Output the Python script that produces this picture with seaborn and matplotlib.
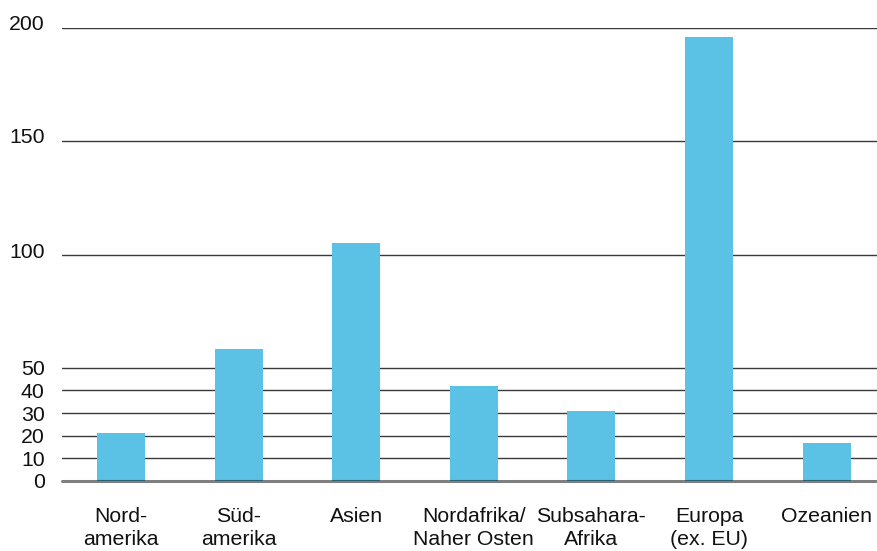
import matplotlib
matplotlib.use("Agg")
import matplotlib.pyplot as plt
from matplotlib.transforms import ScaledTranslation
import seaborn as sns
import pandas as pd

regions = ["Nord-\namerika", "Süd-\namerika", "Asien", "Nordafrika/\nNaher Osten",
           "Subsahara-\nAfrika", "Europa\n(ex. EU)", "Ozeanien"]
values = [21.0, 58.3, 105.0, 41.9, 30.9, 196.0, 16.8]
y_ticks = [0, 10, 20, 30, 40, 50, 100, 150, 200]

df = pd.DataFrame({"region": regions, "value": values})

sns.set_theme(style="white")
plt.rcParams["font.family"] = ["Liberation Sans", "DejaVu Sans"]

fig = plt.figure(figsize=(8.78, 5.51), dpi=100)
ax = fig.add_axes([62 / 878, 1 - 481 / 551, 1 - 62 / 878, 453 / 551])

sns.barplot(data=df, x="region", y="value", color="#5BC2E6", saturation=1,
            width=0.408, linewidth=0, edgecolor="none", ax=ax, zorder=2)

ax.set_xlim(-0.502, 6.437)
ax.set_ylim(0, 200)
ax.set_yticks(y_ticks)
ax.set_yticklabels([str(t) for t in y_ticks])

for t in y_ticks[1:]:
    ax.axhline(t, color="#3a3a3a", lw=1.0, zorder=1)
ax.axhline(0, color="black", alpha=0.5, lw=2.2, zorder=3, clip_on=False)

for s in ax.spines.values():
    s.set_visible(False)

ax.set_xlabel("")
ax.set_ylabel("")
ax.tick_params(axis="y", length=0, pad=12.5, labelsize=15.3, labelcolor="#111111")
ax.tick_params(axis="x", length=0, pad=18.5, labelsize=15.3, labelcolor="#111111")
for lab in ax.get_xticklabels():
    lab.set_linespacing(1.3)

# nudge the upper value labels slightly above their grid lines
lift = {100: 3.5, 150: 6, 200: 6}
for t, lab in zip(y_ticks, ax.get_yticklabels()):
    if t in lift:
        lab.set_transform(lab.get_transform() +
                          ScaledTranslation(0, lift[t] / 100, fig.dpi_scale_trans))

fig.savefig("out.png", dpi=100)
